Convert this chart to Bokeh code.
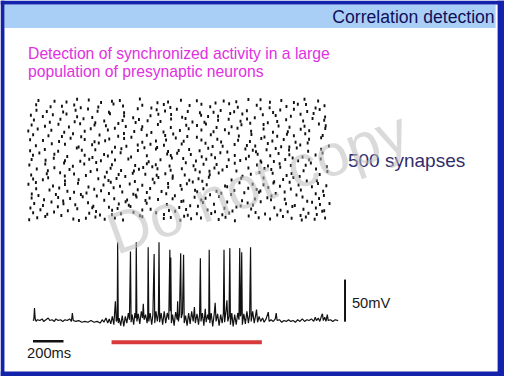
import math
from bokeh.plotting import figure
from bokeh.models import Range1d, Label
from bokeh.embed import file_html
from bokeh.resources import INLINE

# ---------------- data ----------------
title_text = "Correlation detection"
subtitle_lines = ["Detection of synchronized activity in a large",
                  "population of presynaptic neurons"]
raster_label = "500 synapses"
time_bar_ms = 200
volt_bar_mv = 50
stim_start_ms = 515
stim_end_ms = 1500

# presynaptic spikes: (time ms, synapse index)
raster_spikes = [
(14,4),(67,13),(120,18),(305,7),(342,1),(388,10),(451,16),(512,6),(579,12),(633,3),(760,17),(902,9),(948,14),(1011,2),(1036,19),(1082,8),(1147,11),(1264,5),(1309,15),(1371,0),(1528,13),(1603,7),(1688,18),(1745,10),(1812,3),(1839,16),(1897,6),(1966,12),
(133,27),(178,36),(226,22),(410,31),(455,38),(481,24),(619,29),(702,35),(744,21),(851,33),(903,26),(977,39),(1060,23),(1215,30),(1240,37),(1288,25),(1333,32),(1462,20),(1507,34),(1570,28),(1719,37),(1804,22),(1856,31),(1911,26),(1947,39),(40,33),(560,25),(1120,29),(1650,24),
(22,52),(88,45),(203,57),(269,41),(331,49),(540,55),(561,43),(597,50),(682,58),(815,47),(936,42),(1004,54),(1049,46),(1127,59),(1190,44),(1302,51),(1355,40),(1381,56),(1478,48),(1631,53),(1672,43),(1750,58),(1823,47),(1905,52),(1960,41),(430,53),(760,44),
(47,71),(105,63),(161,77),(318,66),(402,74),(437,60),(605,69),(650,78),(671,64),(789,72),(922,67),(1018,79),(1076,62),(1160,75),(1233,68),(1409,61),(1455,73),(1490,65),(1541,78),(1708,70),(1766,63),(1880,76),(1932,67),(1995,71),(240,70),(1320,77),
(112,86),(205,95),(238,81),(284,91),(367,98),(509,84),(575,90),(722,97),(781,83),(808,93),(864,87),(1031,81),(1105,96),(1149,85),(1177,92),(1266,99),(1418,82),(1503,89),(1585,94),(1609,86),(1817,97),(1848,80),(1926,91),(30,93),(660,85),(960,90),(1700,88),
(31,110),(75,103),(310,117),(355,107),(392,114),(460,101),(628,118),(701,109),(717,104),(790,116),(918,111),(975,102),(1122,119),(1207,106),(1281,113),(1346,108),(1433,115),(1612,101),(1640,112),(1699,118),(1777,105),(1904,111),(1958,103),(190,108),(540,112),(1530,117),
(148,126),(212,134),(266,121),(405,138),(443,129),(488,123),(571,135),(730,127),(812,132),(887,120),(931,137),(1108,125),(1163,131),(1320,139),(1367,124),(1459,133),(1514,128),(1539,122),(1591,136),(1740,130),(1806,126),(1879,139),(1953,121),(60,131),(1020,129),(1250,121),
(9,149),(58,157),(171,142),(336,153),(504,146),(552,158),(613,141),(677,150),(840,155),(1012,144),(1054,151),(1093,159),(1185,147),(1306,142),(1401,156),(1488,149),(1625,154),(1668,141),(1732,158),(1791,146),(1919,152),(1974,143),(250,148),(760,145),(930,152),(1560,147),
(104,168),(139,176),(250,163),(470,172),(513,179),(537,165),(590,173),(711,161),(829,170),(866,177),(1070,166),(1131,172),(1156,162),(1199,178),(1349,167),(1412,174),(1630,160),(1689,169),(1757,177),(1911,164),(40,171),(1560,175),(1845,163),(340,168),(960,174),
(27,187),(218,196),(249,183),(310,191),(388,185),(526,198),(604,189),(648,181),(697,194),(855,186),(912,192),(961,183),(1139,199),(1205,188),(1264,195),(1421,182),(1476,190),(1533,197),(1712,185),(1745,193),(1798,181),(1930,189),(130,192),(780,190),(1040,187),(1620,194),
(64,212),(137,205),(180,217),(419,201),(462,209),(551,215),(705,204),(738,211),(766,218),(947,207),(1021,213),(1203,202),(1236,216),(1289,208),(1381,203),(1566,214),(1611,210),(1670,219),(1824,205),(1906,212),(1981,201),(280,210),(620,206),(860,213),(1110,209),(1460,216),
(15,228),(244,236),(302,223),(377,232),(456,238),(713,226),(790,233),(826,221),(849,229),(1047,237),(1098,225),(1164,231),(1318,222),(1370,235),(1517,228),(1545,239),(1589,224),(1666,233),(1838,227),(1872,236),(1977,221),(120,232),(560,229),(940,224),(1250,230),(1740,226),
(122,247),(176,256),(351,243),(410,251),(431,259),(487,245),(668,253),(802,241),(880,249),(955,257),(1114,244),(1182,252),(1240,258),(1406,246),(1444,254),(1628,242),(1703,250),(1752,257),(1788,245),(1937,253),(30,250),(250,245),(580,248),(1030,255),(1330,249),(1540,244),(1860,249),
(39,268),(81,277),(265,263),(508,271),(533,265),(617,278),(686,261),(924,273),(948,267),(990,276),(1152,262),(1216,270),(1275,278),(1463,264),(1521,272),(1604,266),(1659,275),(1817,261),(1903,269),(1949,277),(180,272),(380,268),(790,266),(1080,271),(1370,267),(1730,270),
(117,291),(205,284),(328,297),(361,288),(560,281),(622,294),(731,287),(774,298),(930,283),(1069,291),(1138,286),(1195,296),(1321,281),(1440,293),(1489,288),(1510,282),(1640,295),(1728,289),(1779,297),(1854,284),(1940,292),(20,286),(450,290),(850,293),(1000,287),(1580,290),
(58,307),(163,315),(340,302),(429,311),(473,318),(655,305),(814,313),(858,300),(903,309),(1177,317),(1224,304),(1369,312),(1505,306),(1588,316),(1676,303),(1802,310),(1851,318),(1991,306),(250,313),(580,301),(1020,314),(1450,308),(1730,302),(730,310),(1290,305),
(20,331),(211,324),(287,337),(515,327),(542,334),(760,321),(917,330),(981,338),(1033,325),(1255,333),(1280,322),(1392,329),(1545,336),(1618,326),(1693,332),(1771,321),(1940,339),(105,328),(380,332),(445,323),(640,336),(850,326),(1150,330),(1470,324),(1860,333),
(141,348),(303,356),(357,343),(478,351),(601,345),(639,357),(688,341),(911,349),(964,355),(1057,344),(1212,352),(1331,358),(1397,346),(1566,342),(1714,354),(1760,348),(1835,356),(40,352),(230,344),(790,350),(1120,341),(1480,353),(1650,345),(1950,349),
(8,367),(70,375),(245,362),(533,371),(579,378),(707,365),(755,373),(820,361),(1008,369),(1066,376),(1230,364),(1305,372),(1388,378),(1478,366),(1622,362),(1805,374),(1861,368),(1967,377),(160,370),(380,366),(420,376),(900,363),(1150,371),(1560,375),(1720,364),
(118,386),(207,394),(276,383),(445,391),(602,398),(651,385),(863,393),(948,381),(1121,389),(1180,396),(1349,384),(1414,392),(1472,399),(1659,387),(1731,382),(1925,395),(1970,388),(30,391),(350,397),(520,388),(760,384),(1050,390),(1250,381),(1560,393),(1830,386),
(45,412),(314,405),(372,417),(509,408),(716,402),(738,414),(795,409),(1045,418),(1091,404),(1260,411),(1408,407),(1451,416),(1588,401),(1709,413),(1821,408),(1883,418),(150,403),(220,415),(450,401),(630,410),(880,406),(950,416),(1170,403),(1330,415),(1650,406),(1960,411),
(104,426),(170,433),(430,422),(547,437),(814,429),(866,435),(1023,423),(1148,431),(1194,426),(1340,438),(1502,421),(1555,433),(1740,427),(1804,435),(1966,424),(25,431),(260,436),(330,425),(640,428),(700,421),(950,434),(1260,427),(1420,436),(1640,430),(1890,438),
(62,452),(238,445),(402,457),(465,448),(640,441),(855,454),(910,449),(988,456),(1230,443),(1277,451),(1366,446),(1540,458),(1623,442),(1670,453),(1848,447),(1930,455),(130,447),(320,452),(540,444),(730,458),(1060,447),(1140,441),(1450,450),(1760,456),
(155,466),(311,473),(354,462),(570,477),(633,469),(902,475),(945,463),(1072,471),(1208,466),(1333,478),(1390,464),(1515,472),(1711,467),(1786,476),(1903,461),(1962,470),(60,474),(230,468),(470,465),(760,472),(820,461),(1150,476),(1600,462),(1840,475),
(181,488),(407,494),(488,483),(612,491),(744,498),(930,485),(1015,493),(1243,481),(1297,489),(1460,496),(1602,484),(1677,492),(1830,497),(75,491),(260,485),(330,497),(560,488),(860,482),(1120,490),(1380,486),(1540,495),(1760,483),(1920,489),
]

# postsynaptic membrane potential: time (ms), voltage (mV)
trace_t = [0,5,10,14,20,30,45,60,70,85,100,110,125,140,150,165,180,195,210,225,240,252,258,264,280,300,320,340,360,380,400,420,440,455,465,478,490,500,510,520,530,540,546,552,555,559,565,575,585,595,605,615,625,632,639,643,650,660,668,674,677,681,690,700,710,718,723,728,738,748,752,755,759,768,778,786,794,798,806,815,822,826,830,840,850,860,870,880,890,897,900,903,907,915,925,935,945,948,953,960,968,972,980,987,991,1000,1010,1020,1030,1040,1050,1058,1064,1075,1085,1092,1097,1101,1110,1120,1129,1135,1145,1152,1155,1159,1168,1178,1188,1194,1200,1210,1220,1230,1240,1248,1252,1256,1265,1271,1277,1285,1290,1294,1303,1312,1322,1332,1342,1350,1355,1359,1363,1368,1372,1382,1392,1402,1412,1420,1426,1430,1440,1450,1458,1465,1472,1482,1492,1505,1515,1528,1542,1548,1560,1575,1588,1594,1600,1615,1630,1645,1660,1675,1690,1705,1720,1735,1750,1765,1780,1795,1810,1825,1840,1850,1858,1870,1880,1890,1897,1903,1912,1920,1929,1935,1950,1965,1980,2000]
trace_v = [-70,-71,-56,-68,-72,-70,-71,-69,-72,-70,-68,-71,-70,-72,-69,-71,-70,-72,-70,-71,-69,-72,-62,-71,-72,-71,-73,-72,-73,-71,-73,-72,-74,-70,-73,-68,-74,-69,-75,-66,-76,-48,-72,-70,22,-74,-68,-77,-65,-78,-66,-74,-62,-70,11,-73,-64,-76,-62,-68,22,-72,-63,-75,-60,-68,-51,-70,-64,-74,-66,16,-72,-62,-76,-64,8,-74,-60,-72,-63,22,-73,-62,-76,-60,-74,-62,-70,13,-60,4,-74,-64,-77,-61,-70,-48,-72,-64,9,-68,-62,7,-74,-65,-77,-62,-75,-60,-72,-55,-74,-63,-76,-64,3,-72,-62,-77,-57,-73,-64,-70,13,-74,-62,-78,-63,-50,-72,-63,-77,-64,-74,-62,13,-73,-60,-47,-72,-66,15,-76,-62,-78,-64,-76,-62,-70,15,-66,-64,10,-76,-63,-75,-60,-74,-64,16,-72,-60,-74,-66,-58,-73,-66,-72,-68,-73,-69,-61,-72,-70,-72,-69,-62,-71,-70,-73,-71,-72,-70,-72,-71,-73,-70,-72,-69,-72,-70,-71,-69,-72,-67,-71,-68,-72,-66,-63,-71,-67,-72,-64,-71,-70,-72,-70,-71]

# ---------------- layout (slide pixels, 512 x 384) ----------------
BLUE = "#1222aa"
K_TRACE = 2000 / 310.0     # ms per px for trace
TRACE_X0 = 33              # px where t = 0
TRACE_Y0 = 326             # px where v = -70 mV
MV_PER_PX = 50 / 43.0
K_RAST = 2000 / 308.0
RAST_X0 = 27
RAST_Y0 = 225
N_PER_PX = 4.0
SW, SH = 512, 384

def tv(Y):
    return -70 + (TRACE_Y0 - Y) * MV_PER_PX

p = figure(width=504, height=376, output_backend="svg", toolbar_location=None,
           x_range=Range1d(0, SW), y_range=Range1d(SH, 0),
           x_axis_type=None, y_axis_type=None, min_border=0)
p.grid.visible = False
p.outline_line_color = None
p.background_fill_color = "white"
p.border_fill_color = "white"

p.extra_x_ranges = {
    "trace": Range1d((0 - TRACE_X0) * K_TRACE, (SW - TRACE_X0) * K_TRACE),
    "raster": Range1d((0 - RAST_X0) * K_RAST, (SW - RAST_X0) * K_RAST),
}
p.extra_y_ranges = {
    "trace": Range1d(tv(SH), tv(0)),
    "raster": Range1d((RAST_Y0 - SH) * N_PER_PX, (RAST_Y0 - 0) * N_PER_PX),
}

# slide frame
p.quad(left=4, right=503, top=4, bottom=28, fill_color="#a9cff7", line_color=None)
p.quad(left=[0, 505, 0, 0], right=[4, SW, SW, SW], top=[0, 0, 0, 379],
       bottom=[SH, SH, 4, SH], fill_color=BLUE, line_color=None)

# raster
rt = [s[0] for s in raster_spikes]
rn = [s[1] for s in raster_spikes]
p.rect(x=rt, y=rn, width=1.9, height=3, width_units="screen", height_units="screen",
       x_range_name="raster", y_range_name="raster", fill_color="#111111", line_color=None)

# trace
p.line(trace_t, trace_v, x_range_name="trace", y_range_name="trace",
       line_color="#111111", line_width=1.2)

# stimulus bar
p.segment(x0=[stim_start_ms], x1=[stim_end_ms], y0=[tv(349)], y1=[tv(349)],
          x_range_name="trace", y_range_name="trace", line_color="#d63a3a", line_width=4)
# time scale bar
p.segment(x0=[0], x1=[time_bar_ms], y0=[tv(348)], y1=[tv(348)],
          x_range_name="trace", y_range_name="trace", line_color="#111111", line_width=2.5)
# voltage scale bar
vb_t = (350 - TRACE_X0) * K_TRACE
p.segment(x0=[vb_t], x1=[vb_t], y0=[tv(328)], y1=[tv(328) + volt_bar_mv],
          x_range_name="trace", y_range_name="trace", line_color="#111111", line_width=2)

FONT = "Liberation Sans"
p.add_layout(Label(x=502, y=17, text=title_text, text_align="right", text_baseline="middle",
                   text_font=FONT, text_font_size="17.6px", text_color="#10105a"))
for i, line in enumerate(subtitle_lines):
    p.add_layout(Label(x=28, y=54 + 18 * i, text=line, text_align="left", text_baseline="middle",
                       text_font=FONT, text_font_size="15.7px", text_color="#e030e0"))
p.add_layout(Label(x=353, y=163, text=raster_label, text_align="left", text_baseline="middle",
                   text_font=FONT, text_font_size="19px", text_color="#322c6c"))
p.add_layout(Label(x=357, y=309, text=f"{volt_bar_mv}mV", text_align="left", text_baseline="middle",
                   text_font=FONT, text_font_size="14.7px", text_color="#1a1a1a"))
p.add_layout(Label(x=27, y=360, text=f"{time_bar_ms}ms", text_align="left", text_baseline="middle",
                   text_font=FONT, text_font_size="14.7px", text_color="#1a1a1a"))
# watermark
p.add_layout(Label(x=111, y=241, text="Do not copy", text_align="left", text_baseline="alphabetic",
                   angle=math.radians(20), text_font=FONT, text_font_size="59px",
                   text_color="#bcbcbc", text_alpha=0.55))

open("out.html", "w").write(file_html(p, INLINE))
